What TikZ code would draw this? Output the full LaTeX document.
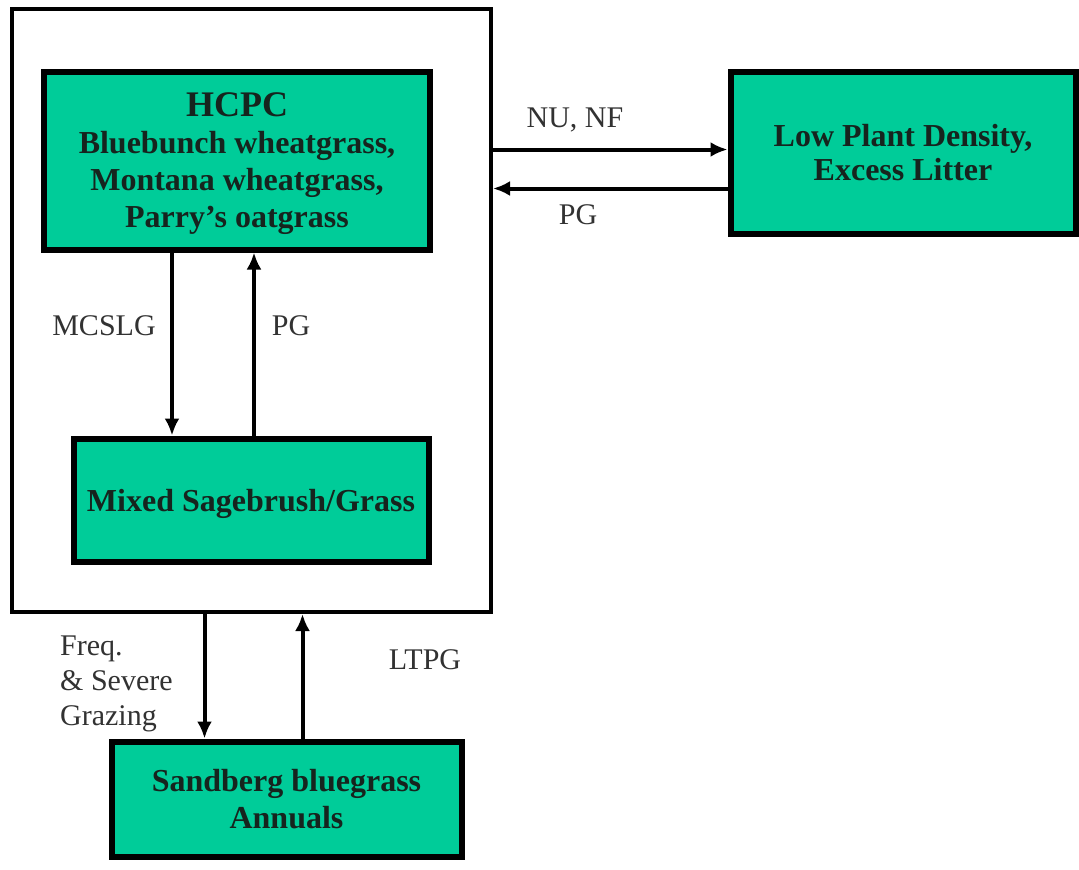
\documentclass[tikz,border=0pt]{standalone}
\usepackage{fontspec}
\setmainfont{Liberation Serif}
\usetikzlibrary{arrows.meta}
\definecolor{seagreen}{RGB}{0,204,153}
\definecolor{inktext}{RGB}{22,36,30}
\definecolor{labelgray}{RGB}{50,50,50}
\begin{document}
\begin{tikzpicture}[x=1pt,y=-1pt,
    statebox/.style={draw=black,line width=6pt,fill=seagreen,align=center,text depth=0pt,
        text=inktext,font=\fontsize{32}{37}\selectfont\bfseries,inner sep=0pt},
    lbl/.style={text=labelgray,font=\fontsize{30}{35}\selectfont,inner sep=0pt},
    arr/.style={line width=4pt,-{Latex[length=17pt,width=15pt]}}]
                \useasboundingbox (0,0) rectangle (1079,870);
                \node[draw=black,line width=4pt,minimum width=479pt,minimum height=603pt] (outer) at (251.5,310.5) {};
                \node[statebox,minimum width=386pt,minimum height=178pt] (hcpc) at (237,160.5)
                    {{\fontsize{36}{39}\selectfont HCPC}\\Bluebunch wheatgrass,\\Montana wheatgrass,\\Parry's oatgrass};
                \node[statebox,minimum width=355pt,minimum height=123pt] (mixed) at (251,500) {Mixed Sagebrush/Grass};
                \node[statebox,minimum width=345pt,minimum height=162pt,font=\fontsize{32}{34}\selectfont\bfseries] (low) at (903,152.5) {Low Plant Density,\\Excess Litter};
                \node[statebox,minimum width=350pt,minimum height=115pt] (sand) at (286.5,799) {Sandberg bluegrass\\Annuals};
                % inner transitions
                \draw[arr] ([xshift=-65pt]hcpc.south) -- ([xshift=-79pt]mixed.north);
                \draw[arr] ([xshift=3pt]mixed.north) -- ([xshift=17pt]hcpc.south);
                \node[lbl] (mcslg) at (104,326) {MCSLG};
                \node[lbl] (pgin) at (291,326) {PG};
                % to and from the low density state
                \coordinate (nu) at ([yshift=3pt]low.west);
                \coordinate (pg) at ([yshift=-36pt]low.west);
                \draw[arr] (outer.east |- nu) -- (nu);
                \draw[arr] (pg) -- (outer.east |- pg);
                \node[lbl] (nunf) at (575,120) {NU, NF};
                \node[lbl] (pgright) at (578,215) {PG};
                % to and from the annuals state
                \coordinate (fs) at ([xshift=-82pt]sand.north);
                \coordinate (lt) at ([xshift=16pt]sand.north);
                \draw[arr] (outer.south -| fs) -- (fs);
                \draw[arr] (lt) -- (outer.south -| lt);
                \node[lbl,align=left,anchor=west] (freq) at (60,684) {Freq.\\\& Severe\\Grazing};
                \node[lbl] (ltpg) at (425,660) {LTPG};
\end{tikzpicture}
\end{document}
